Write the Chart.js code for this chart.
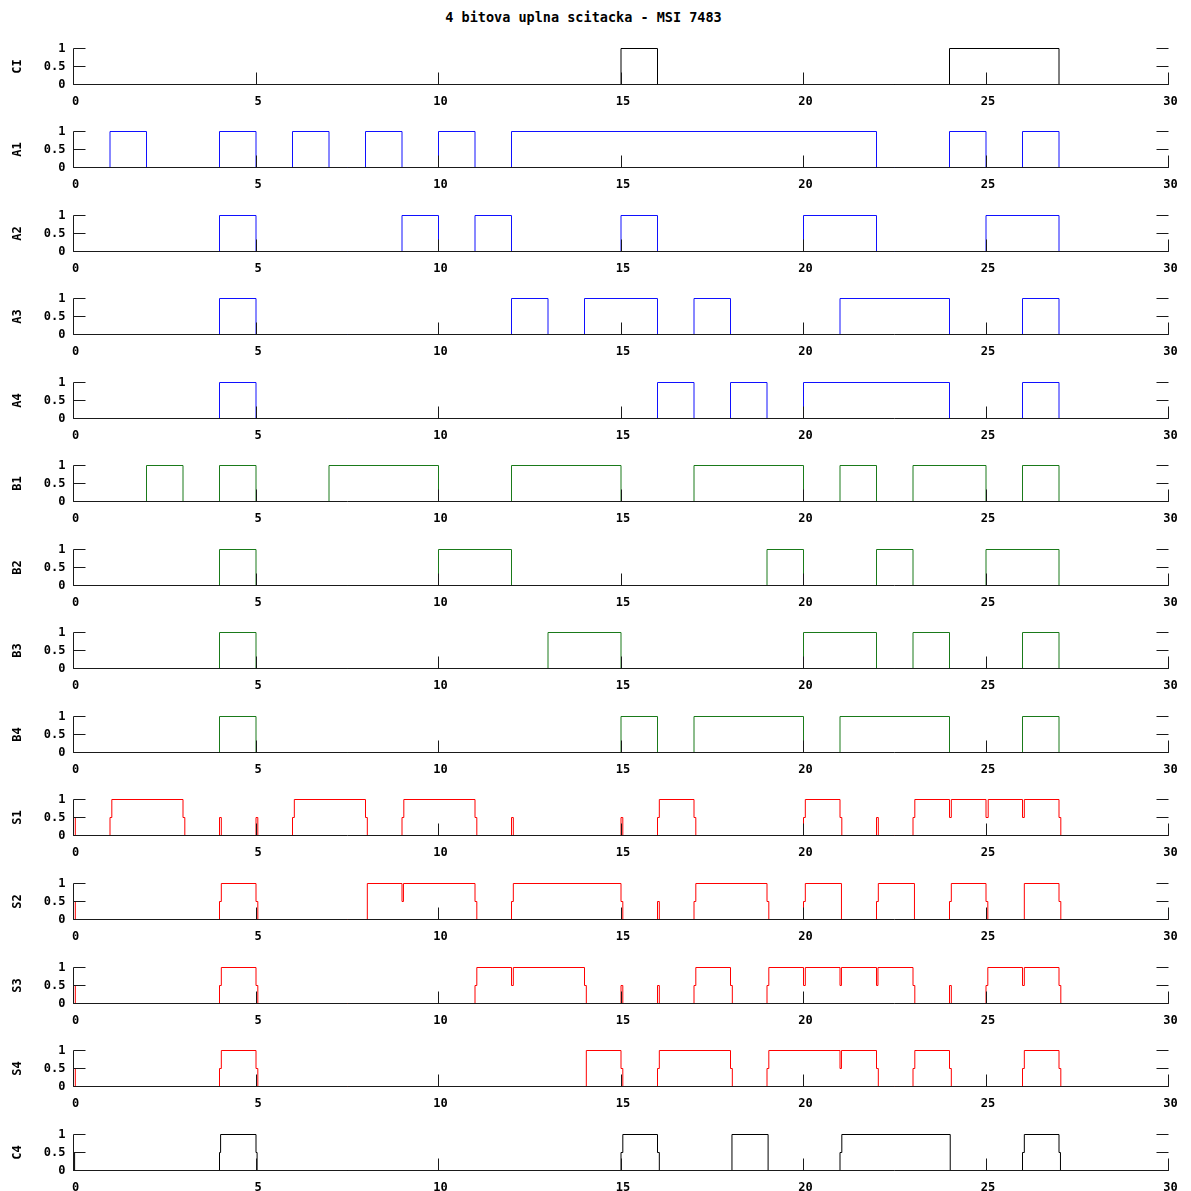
<!DOCTYPE html>
<html><head><meta charset="utf-8">
<script src="https://cdn.jsdelivr.net/npm/chart.js@4.4.1/dist/chart.umd.min.js"></script>
<style>
html,body{margin:0;padding:0;background:#fff;width:1191px;height:1191px;overflow:hidden;position:relative}
#title{position:absolute;left:0;width:1167px;top:9px;text-align:center;font:bold 13.5px "DejaVu Sans Mono",monospace;color:#000;white-space:pre}
canvas{position:absolute;left:0}
</style></head><body>
<div id="title">4 bitova uplna scitacka - MSI 7483</div>
<script>
// ---- tick labels ----
const xTicks = [0, 5, 10, 15, 20, 25, 30];
const yTicks = [0, 0.5, 1];

// ---- signal names ----
const signalNames = ['CI','A1','A2','A3','A4','B1','B2','B3','B4','S1','S2','S3','S4','C4'];

// ---- inputs: [time, level] change points ----
const CI = [[0,0],[15,1],[16,0],[24,1],[27,0],[30,0]];
const A1 = [[0,0],[1,1],[2,0],[4,1],[5,0],[6,1],[7,0],[8,1],[9,0],[10,1],[11,0],[12,1],[22,0],[24,1],[25,0],[26,1],[27,0],[30,0]];
const A2 = [[0,0],[4,1],[5,0],[9,1],[10,0],[11,1],[12,0],[15,1],[16,0],[20,1],[22,0],[25,1],[27,0],[30,0]];
const A3 = [[0,0],[4,1],[5,0],[12,1],[13,0],[14,1],[16,0],[17,1],[18,0],[21,1],[24,0],[26,1],[27,0],[30,0]];
const A4 = [[0,0],[4,1],[5,0],[16,1],[17,0],[18,1],[19,0],[20,1],[24,0],[26,1],[27,0],[30,0]];
const B1 = [[0,0],[2,1],[3,0],[4,1],[5,0],[7,1],[10,0],[12,1],[15,0],[17,1],[20,0],[21,1],[22,0],[23,1],[25,0],[26,1],[27,0],[30,0]];
const B2 = [[0,0],[4,1],[5,0],[10,1],[12,0],[19,1],[20,0],[22,1],[23,0],[25,1],[27,0],[30,0]];
const B3 = [[0,0],[4,1],[5,0],[13,1],[15,0],[20,1],[22,0],[23,1],[24,0],[26,1],[27,0],[30,0]];
const B4 = [[0,0],[4,1],[5,0],[15,1],[16,0],[17,1],[20,0],[21,1],[24,0],[26,1],[27,0],[30,0]];

// ---- outputs (0.5 = unknown state during switching) ----
const S1 = [[0,0],[0,0.5],[0.05,0],[1,0.5],[1.05,1],[3,0.5],[3.05,0],[4,0.5],[4.05,0],[5,0.5],[5.05,0],
  [6,0.5],[6.05,1],[8,0.5],[8.05,0],[9,0.5],[9.05,1],[11,0.5],[11.05,0],[12,0.5],[12.05,0],[15,0.5],[15.05,0],
  [16,0.5],[16.05,1],[17,0.5],[17.05,0],[20,0.5],[20.05,1],[21,0.5],[21.05,0],[22,0.5],[22.05,0],[23,0.5],[23.05,1],
  [24,0.5],[24.05,1],[25,0.5],[25.06,1],[26,0.5],[26.05,1],[27,0.5],[27.05,0],[30,0]];
const S2 = [[0,0],[0,0.5],[0.05,0],[4,0.5],[4.05,1],[5,0.5],[5.05,0],[8.05,1],[9,0.5],[9.04,1],[11,0.5],[11.05,0],
  [12,0.5],[12.05,1],[15,0.5],[15.05,0],[16,0.5],[16.05,0],[17,0.5],[17.05,1],[19,0.5],[19.05,0],[20,0.5],[20.05,1],
  [21.04,0],[22,0.5],[22.05,1],[23.04,0],[24,0.5],[24.05,1],[25,0.5],[25.05,0],[26.05,1],[27,0.5],[27.05,0],[30,0]];
const S3 = [[0,0],[0,0.5],[0.05,0],[4,0.5],[4.05,1],[5,0.5],[5.05,0],[11,0.5],[11.05,1],[12,0.5],[12.05,1],
  [14,0.5],[14.05,0],[15,0.5],[15.05,0],[16,0.5],[16.05,0],[17,0.5],[17.05,1],[18,0.5],[18.05,0],[19,0.5],[19.05,1],
  [20,0.5],[20.05,1],[21,0.5],[21.04,1],[22,0.5],[22.04,1],[23,0.5],[23.05,0],[24,0.5],[24.05,0],[25,0.5],[25.05,1],
  [26,0.5],[26.05,1],[27,0.5],[27.05,0],[30,0]];
const S4 = [[0,0],[0,0.5],[0.05,0],[4,0.5],[4.05,1],[5,0.5],[5.05,0],[14.05,1],[15,0.5],[15.05,0],[16,0.5],[16.05,1],
  [18,0.5],[18.05,0],[19,0.5],[19.05,1],[21,0.5],[21.04,1],[22,0.5],[22.05,0],[23,0.5],[23.05,1],[24,0.5],[24.05,0],
  [26,0.5],[26.05,1],[27,0.5],[27.05,0],[30,0]];
const C4 = [[0,0],[0,0.5],[0.03,0],[4,0.5],[4.03,1],[5,0.5],[5.03,0],[15,0.5],[15.05,1],[16,0.5],[16.05,0],
  [18.04,1],[19.03,0],[21,0.5],[21.05,1],[24.02,0],[26,0.5],[26.05,1],[27,0.5],[27.04,0],[30,0]];

const signalData = [CI, A1, A2, A3, A4, B1, B2, B3, B4, S1, S2, S3, S4, C4];
const signalColors = ['#000000','#1010ff','#1010ff','#1010ff','#1010ff','#1a7a1a','#1a7a1a','#1a7a1a','#1a7a1a',
  '#ff0000','#ff0000','#ff0000','#ff0000','#000000'];

// ---- layout ----
const ROW0 = 48, ROWSTEP = 83.55, CANVAS_H = 84, PAD_TOP = 10.5, AREA_H = 36;
const LEFT = 73.5, RIGHT = 1168.5, W = 1191;
const font = {family: '"DejaVu Sans Mono", monospace', size: 12, weight: 'bold'};

const framePlugin = {
  id: 'frame',
  afterDatasetsDraw(chart) {
    const {ctx, chartArea: {left, right, top, bottom}, scales: {x, y}} = chart;
    ctx.save();
    ctx.strokeStyle = '#1a1a1a';
    ctx.lineWidth = 1;
    ctx.beginPath();
    ctx.moveTo(left, top); ctx.lineTo(left, bottom); ctx.lineTo(right, bottom);
    yTicks.forEach(v => {
      const py = Math.round(y.getPixelForValue(v) - 0.5) + 0.5;
      ctx.moveTo(left, py); ctx.lineTo(left + 12, py);
      ctx.moveTo(right - 12, py); ctx.lineTo(right, py);
    });
    xTicks.forEach(v => {
      const px = Math.round(x.getPixelForValue(v) - 0.5) + 0.5;
      ctx.moveTo(px, bottom); ctx.lineTo(px, bottom - 12);
    });
    ctx.stroke();
    ctx.restore();
  }
};

signalNames.forEach((name, i) => {
  const top = Math.floor(ROW0 + i * ROWSTEP) - 10;
  const cv = document.createElement('canvas');
  cv.width = W; cv.height = CANVAS_H;
  cv.style.top = top + 'px';
  cv.style.width = W + 'px'; cv.style.height = CANVAS_H + 'px';
  document.body.appendChild(cv);
  new Chart(cv, {
    type: 'line',
    data: {
      datasets: [{
        label: name,
        data: signalData[i].map(([x, y]) => ({x, y})),
        borderColor: signalColors[i],
        borderWidth: 1,
        pointRadius: 0,
        stepped: true,
        fill: false,
        clip: 4
      }]
    },
    options: {
      responsive: false,
      animation: false,
      devicePixelRatio: 1,
      events: [],
      layout: {padding: {top: PAD_TOP, left: 0, right: W - RIGHT, bottom: 0}},
      plugins: {legend: {display: false}, tooltip: {enabled: false}, title: {display: false}},
      scales: {
        x: {
          type: 'linear', min: 0, max: 30,
          afterBuildTicks: s => { s.ticks = xTicks.map(v => ({value: v})); },
          grid: {display: false, drawTicks: false},
          border: {display: false},
          ticks: {font, color: '#000', padding: 10, labelOffset: 2, maxRotation: 0, autoSkip: false,
                  callback: v => String(v)},
          afterFit: s => { s.height = CANVAS_H - PAD_TOP - AREA_H; s.paddingLeft = 0; s.paddingRight = 0; }
        },
        y: {
          type: 'linear', min: 0, max: 1,
          afterBuildTicks: s => { s.ticks = yTicks.map(v => ({value: v})); },
          grid: {display: false, drawTicks: false},
          border: {display: false},
          ticks: {font, color: '#000', padding: 8, callback: v => String(v)},
          title: {display: true, text: name, font, color: '#000', padding: {top: 11, bottom: 0}},
          afterFit: s => { s.width = LEFT; s.paddingTop = 0; s.paddingBottom = 0; }
        }
      }
    },
    plugins: [framePlugin]
  });
});
</script>
</body></html>
